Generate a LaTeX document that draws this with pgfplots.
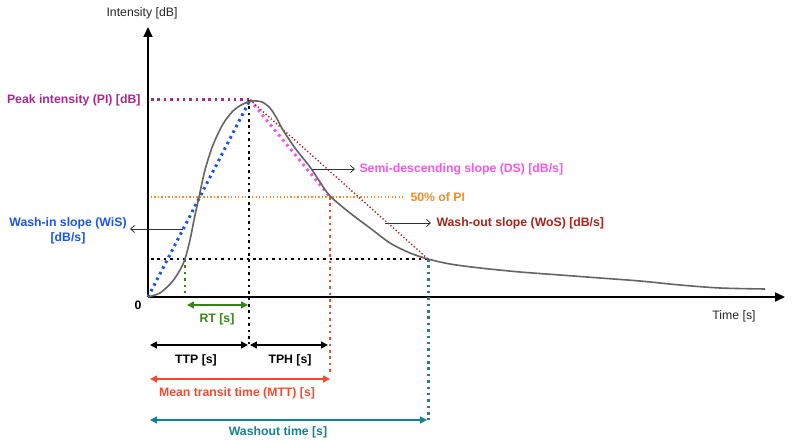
\documentclass[border=0pt]{standalone}
\usepackage{pgfplots}
\pgfplotsset{compat=1.18}
\usepackage{fontspec}
\setmainfont{Liberation Sans}
\usetikzlibrary{arrows.meta}
\definecolor{piPurple}{RGB}{170,40,140}
\definecolor{dsMag}{RGB}{250,85,230}
\definecolor{halfOr}{RGB}{245,140,40}
\definecolor{woRed}{RGB}{165,35,25}
\definecolor{wiBlue}{RGB}{25,85,230}
\definecolor{rtGreen}{RGB}{50,135,20}
\definecolor{mttRed}{RGB}{245,75,45}
\definecolor{wTeal}{RGB}{20,130,150}
\definecolor{curveGray}{RGB}{100,100,100}
\begin{document}
\begin{tikzpicture}[font=\fontsize{12.3}{14}\selectfont]
\begin{axis}[
  scale only axis, width=792bp, height=447bp,
  xmin=-148, xmax=644, ymin=-150, ymax=297,
  hide axis, clip=false,
  thickdot/.style={line width=3pt, dash pattern=on 2.6pt off 3.8pt},
  thindot/.style={line width=1.4pt, dash pattern=on 1.3pt off 2.2pt},
]
% axes
\draw[line width=1.7pt, -{Triangle[length=10pt,width=9pt]}] (axis cs:0,0) -- (axis cs:637,0);
\draw[line width=1.7pt, -{Triangle[length=10pt,width=9pt]}] (axis cs:0,0) -- (axis cs:0,270);
% reference lines
\addplot[thickdot, color=piPurple] coordinates {(3,197) (102,197)};
\addplot[thindot, color=halfOr] coordinates {(3,100) (255,100)};
\addplot[thickdot, color=black] coordinates {(3,38) (280,38)};
\addplot[thickdot, color=black] coordinates {(101,197) (101,-47)};
\addplot[thickdot, color=rtGreen] coordinates {(37,38) (37,1)};
\addplot[thickdot, color=mttRed] coordinates {(182,100) (182,-77)};
\addplot[thickdot, color=wTeal] coordinates {(280,38) (280,-123)};
% slopes
\addplot[thickdot, color=wiBlue] coordinates {(0,0) (102,197)};
\addplot[thickdot, color=dsMag] coordinates {(102,197) (182,100)};
\addplot[thindot, color=woRed] coordinates {(102,197) (280,38)};
% curve
\addplot[color=curveGray, line width=1.6pt, smooth, tension=0.5] coordinates {
(0,0) (12,4) (24,15) (32,27) (37,38) (42,57) (46,77) (51,100) (57,127)
(65,152) (75,173) (85,186) (95,193) (104,196) (114,195) (122,189) (128,180)
(135,167) (147,149) (162,130) (172,115) (182,101) (202,84) (222,69) (242,54)
(262,44) (280,38) (302,33) (332,29) (372,25) (412,22) (452,19) (492,16)
(532,12) (572,9) (617,8)};
% time arrows
\draw[rtGreen, line width=1.5pt, {Triangle[length=7pt,width=7pt]}-{Triangle[length=7pt,width=7pt]}] (axis cs:39,-8) -- (axis cs:100,-8);
\draw[black, line width=1.5pt, {Triangle[length=7pt,width=7pt]}-{Triangle[length=7pt,width=7pt]}] (axis cs:2,-48) -- (axis cs:100,-48);
\draw[black, line width=1.5pt, {Triangle[length=7pt,width=7pt]}-{Triangle[length=7pt,width=7pt]}] (axis cs:102,-48) -- (axis cs:180,-48);
\draw[mttRed, line width=1.5pt, {Triangle[length=7pt,width=7pt]}-{Triangle[length=7pt,width=7pt]}] (axis cs:2,-82) -- (axis cs:182,-82);
\draw[wTeal, line width=1.5pt, {Triangle[length=7pt,width=7pt]}-{Triangle[length=7pt,width=7pt]}] (axis cs:2,-123) -- (axis cs:279,-123);
% pointer arrows
\draw[black!80, line width=0.8pt, -{Straight Barb[length=4pt,width=7pt]}] (axis cs:35,68) -- (axis cs:-18,68);
\draw[black!80, line width=0.8pt, -{Straight Barb[length=4pt,width=7pt]}] (axis cs:164,128) -- (axis cs:207,128);
\draw[black!80, line width=0.8pt, -{Straight Barb[length=4pt,width=7pt]}] (axis cs:237,74) -- (axis cs:283,74);
% labels
\node[font=\fontsize{12.3}{14}\selectfont\bfseries] at (axis cs:-10,-8) {0};
\node[text=black!85] at (axis cs:-6,284) {Intensity [dB]};
\node[text=black!85] at (axis cs:586,-19) {Time [s]};
\node[anchor=east, text=piPurple, font=\fontsize{12.3}{14}\selectfont\bfseries] at (axis cs:-4,197) {Peak intensity (PI) [dB]};
\node[text=wiBlue, font=\fontsize{12.3}{14}\selectfont\bfseries, align=center] at (axis cs:-80,66) {Wash-in slope (WiS)\\[1pt] [dB/s]};
\node[anchor=west, text=dsMag, font=\fontsize{12.3}{14}\selectfont\bfseries] at (axis cs:208,128) {Semi-descending slope (DS) [dB/s]};
\node[anchor=west, text=halfOr, font=\fontsize{12.3}{14}\selectfont\bfseries] at (axis cs:259,100) {50\% of PI};
\node[anchor=west, text=woRed, font=\fontsize{12.3}{14}\selectfont\bfseries] at (axis cs:285,74) {Wash-out slope (WoS) [dB/s]};
\node[text=rtGreen, font=\fontsize{12.3}{14}\selectfont\bfseries] at (axis cs:69,-22) {RT [s]};
\node[text=black, font=\fontsize{12.3}{14}\selectfont\bfseries] at (axis cs:48,-63) {TTP [s]};
\node[text=black, font=\fontsize{12.3}{14}\selectfont\bfseries] at (axis cs:142,-63) {TPH [s]};
\node[text=mttRed, font=\fontsize{12.3}{14}\selectfont\bfseries] at (axis cs:89,-96) {Mean transit time (MTT) [s]};
\node[text=wTeal, font=\fontsize{12.3}{14}\selectfont\bfseries] at (axis cs:130,-135) {Washout time [s]};
\path (rel axis cs:0,0) rectangle (rel axis cs:1,1);
\end{axis}
\end{tikzpicture}
\end{document}
